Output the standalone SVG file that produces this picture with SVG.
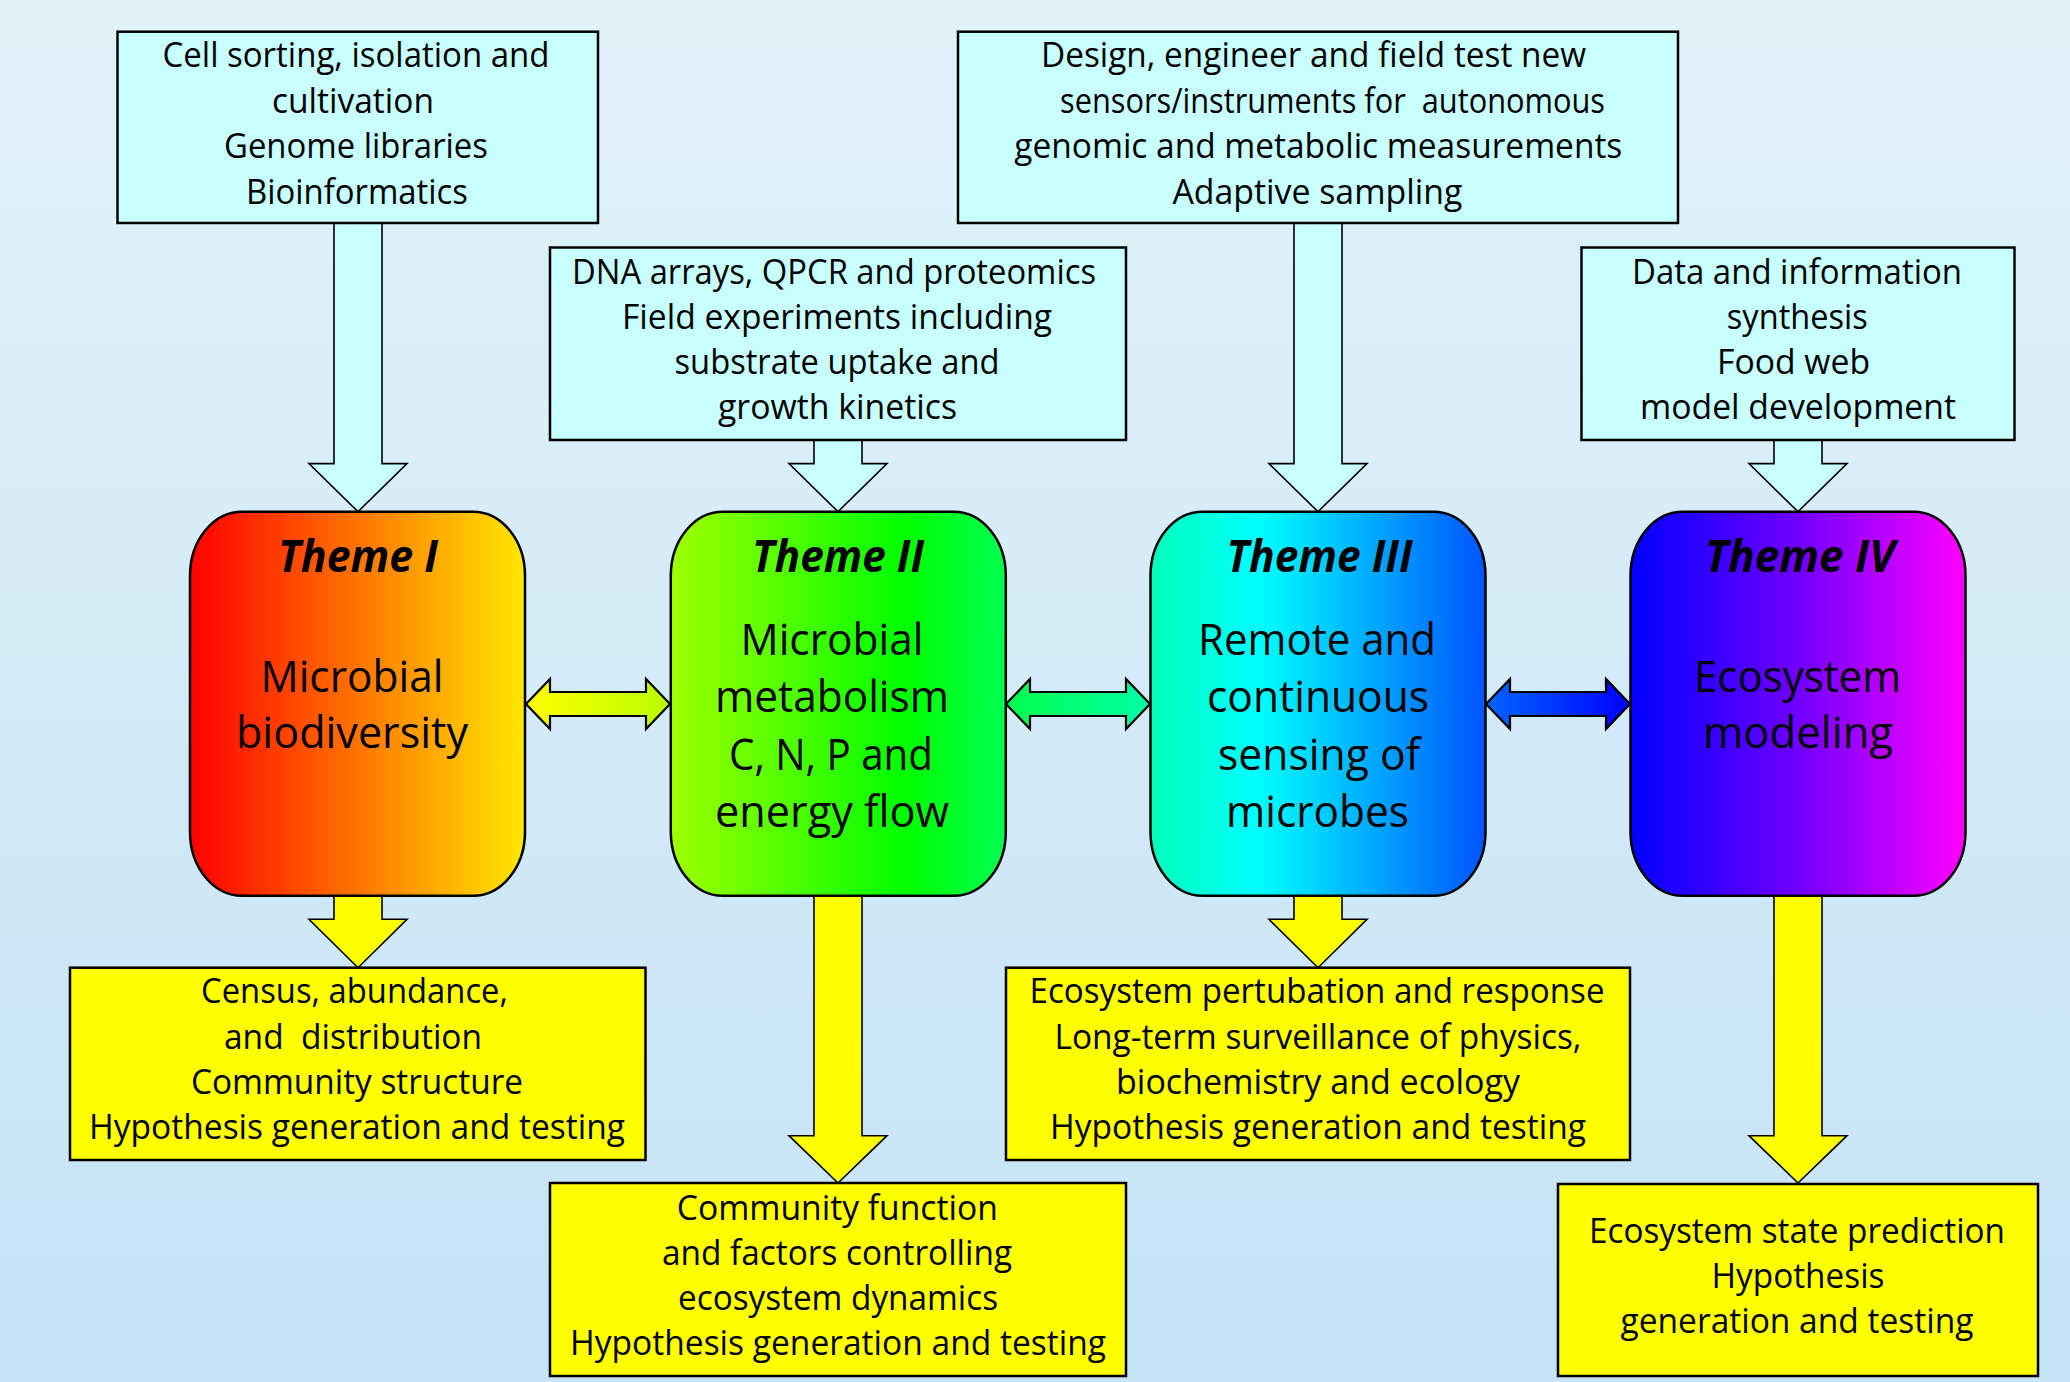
<svg xmlns="http://www.w3.org/2000/svg" width="2070" height="1382" viewBox="0 0 2070 1382">
<defs>
<linearGradient id="bg" x1="0" y1="0" x2="0" y2="1"><stop offset="0" stop-color="#e1f3f9"/><stop offset="1" stop-color="#c5e2f7"/></linearGradient>
<linearGradient id="g1" x1="0" y1="0" x2="1" y2="0"><stop offset="0" stop-color="#ff0000"/><stop offset="0.55" stop-color="#ff8000"/><stop offset="1" stop-color="#ffe800"/></linearGradient>
<linearGradient id="g2" x1="0" y1="0" x2="1" y2="0"><stop offset="0" stop-color="#a0ff00"/><stop offset="0.7" stop-color="#00ff00"/><stop offset="1" stop-color="#00ff50"/></linearGradient>
<linearGradient id="g3" x1="0" y1="0" x2="1" y2="0"><stop offset="0" stop-color="#00ffb8"/><stop offset="0.32" stop-color="#00ffff"/><stop offset="1" stop-color="#0055ff"/></linearGradient>
<linearGradient id="g4" x1="0" y1="0" x2="1" y2="0"><stop offset="0" stop-color="#0000ff"/><stop offset="0.5" stop-color="#7000ff"/><stop offset="1" stop-color="#ff00ff"/></linearGradient>
<linearGradient id="a12" x1="0" y1="0" x2="1" y2="0"><stop offset="0" stop-color="#ffff00"/><stop offset="1" stop-color="#b8ff00"/></linearGradient>
<linearGradient id="a23" x1="0" y1="0" x2="1" y2="0"><stop offset="0" stop-color="#00ff4a"/><stop offset="1" stop-color="#00ffa8"/></linearGradient>
<linearGradient id="a34" x1="0" y1="0" x2="1" y2="0"><stop offset="0" stop-color="#0066ff"/><stop offset="1" stop-color="#0000ff"/></linearGradient>
<style>
.in{fill:#c8ffff;stroke:#000;stroke-width:2.5}
.out{fill:#ffff00;stroke:#000;stroke-width:2.5}
.th{stroke:#000;stroke-width:2.5}
.ain{fill:#c8ffff;stroke:#000;stroke-width:1.6}
.aout{fill:#ffff00;stroke:#000;stroke-width:1.6}
.dbl{stroke:#000;stroke-width:2.2;stroke-linejoin:miter}
text{font-family:"Open Sans","Noto Sans","Liberation Sans",sans-serif;fill:#000;text-anchor:middle}
.t{font-size:34px}
.tt{font-size:45px;font-weight:700;font-style:italic}
.tb{font-size:44px}
.pre{white-space:pre}
</style>
</defs>
<rect width="2070" height="1382" fill="url(#bg)"/>

<g id="connectors">
<path class="ain" d="M334,223 V463.6 H309 L358,511.7 L407,463.6 H382 V223 Z"/>
<path class="ain" d="M814,440 V463.6 H789 L838,511.7 L887,463.6 H862 V440 Z"/>
<path class="ain" d="M1294,223 V463.6 H1269 L1318,511.7 L1367,463.6 H1342 V223 Z"/>
<path class="ain" d="M1774,440 V463.6 H1749 L1798,511.7 L1847,463.6 H1822 V440 Z"/>
<path class="aout" d="M334,895.7 V919.3 H309 L358,967.7 L407,919.3 H382 V895.7 Z"/>
<path class="aout" d="M814,895.7 V1135.7 H789 L838,1183 L887,1135.7 H862 V895.7 Z"/>
<path class="aout" d="M1294,895.7 V919.3 H1269 L1318,967.7 L1367,919.3 H1342 V895.7 Z"/>
<path class="aout" d="M1774,895.7 V1135.7 H1749 L1798,1183 L1847,1135.7 H1822 V895.7 Z"/>
<path class="dbl" fill="url(#a12)" d="M526,704 L550,679 V692 H646 V679 L670,704 L646,729 V716 H550 V729 Z"/>
<path class="dbl" fill="url(#a23)" d="M1006,704 L1030,679 V692 H1126 V679 L1150,704 L1126,729 V716 H1030 V729 Z"/>
<path class="dbl" fill="url(#a34)" d="M1486,704 L1510,679 V692 H1606 V679 L1630,704 L1606,729 V716 H1510 V729 Z"/>
</g>

<g id="box-cell-sorting">
<rect class="in" x="117.5" y="31.7" width="480.5" height="191.3"/>
<text class="t" x="356" y="67" textLength="387" lengthAdjust="spacingAndGlyphs">Cell sorting, isolation and</text>
<text class="t" x="353" y="112.5" textLength="162" lengthAdjust="spacingAndGlyphs">cultivation</text>
<text class="t" x="356" y="158" textLength="264" lengthAdjust="spacingAndGlyphs">Genome libraries</text>
<text class="t" x="357" y="203.5" textLength="222" lengthAdjust="spacingAndGlyphs">Bioinformatics</text>
</g>

<g id="box-dna-arrays">
<rect class="in" x="550" y="247.5" width="576" height="192.5"/>
<text class="t" x="834" y="284" textLength="524" lengthAdjust="spacingAndGlyphs">DNA arrays, QPCR and proteomics</text>
<text class="t" x="837" y="329" textLength="430" lengthAdjust="spacingAndGlyphs">Field experiments including</text>
<text class="t" x="837" y="374" textLength="325" lengthAdjust="spacingAndGlyphs">substrate uptake and</text>
<text class="t" x="837.5" y="419" textLength="239" lengthAdjust="spacingAndGlyphs">growth kinetics</text>
</g>

<g id="box-design">
<rect class="in" x="958" y="31.7" width="720" height="191.3"/>
<text class="t" x="1313.5" y="67" textLength="545" lengthAdjust="spacingAndGlyphs">Design, engineer and field test new</text>
<text class="t pre" x="1332.5" y="112.5" textLength="545" lengthAdjust="spacingAndGlyphs">sensors/instruments for  autonomous</text>
<text class="t" x="1318.3" y="158" textLength="608" lengthAdjust="spacingAndGlyphs">genomic and metabolic measurements</text>
<text class="t" x="1317.4" y="203.5" textLength="290" lengthAdjust="spacingAndGlyphs">Adaptive sampling</text>
</g>

<g id="box-data">
<rect class="in" x="1581.5" y="247.5" width="433" height="192.5"/>
<text class="t" x="1797" y="284" textLength="330" lengthAdjust="spacingAndGlyphs">Data and information</text>
<text class="t" x="1797.3" y="329" textLength="141" lengthAdjust="spacingAndGlyphs">synthesis</text>
<text class="t" x="1793.5" y="374" textLength="153" lengthAdjust="spacingAndGlyphs">Food web</text>
<text class="t" x="1798" y="419" textLength="316" lengthAdjust="spacingAndGlyphs">model development</text>
</g>

<g id="theme-1">
<rect class="th" fill="url(#g1)" x="190" y="511.7" width="335" height="384" rx="52" ry="64"/>
<text class="tt" x="358" y="572" textLength="160" lengthAdjust="spacingAndGlyphs">Theme I</text>
<text class="tb" x="352" y="692" textLength="183" lengthAdjust="spacingAndGlyphs">Microbial</text>
<text class="tb" x="352" y="748" textLength="232" lengthAdjust="spacingAndGlyphs">biodiversity</text>
</g>

<g id="theme-2">
<rect class="th" fill="url(#g2)" x="670.8" y="511.7" width="335" height="384" rx="52" ry="64"/>
<text class="tt" x="838" y="572" textLength="172" lengthAdjust="spacingAndGlyphs">Theme II</text>
<text class="tb" x="832" y="655" textLength="183" lengthAdjust="spacingAndGlyphs">Microbial</text>
<text class="tb" x="832" y="712" textLength="234" lengthAdjust="spacingAndGlyphs">metabolism</text>
<text class="tb" x="831" y="770" textLength="204" lengthAdjust="spacingAndGlyphs">C, N, P and</text>
<text class="tb" x="832" y="827" textLength="234" lengthAdjust="spacingAndGlyphs">energy flow</text>
</g>

<g id="theme-3">
<rect class="th" fill="url(#g3)" x="1150.5" y="511.7" width="335" height="384" rx="52" ry="64"/>
<text class="tt" x="1319.5" y="572" textLength="186" lengthAdjust="spacingAndGlyphs">Theme III</text>
<text class="tb" x="1317" y="655" textLength="238" lengthAdjust="spacingAndGlyphs">Remote and</text>
<text class="tb" x="1318" y="712" textLength="222" lengthAdjust="spacingAndGlyphs">continuous</text>
<text class="tb" x="1319" y="770" textLength="202" lengthAdjust="spacingAndGlyphs">sensing of</text>
<text class="tb" x="1317.5" y="827" textLength="183" lengthAdjust="spacingAndGlyphs">microbes</text>
</g>

<g id="theme-4">
<rect class="th" fill="url(#g4)" x="1630.5" y="511.7" width="335" height="384" rx="52" ry="64"/>
<text class="tt" x="1800" y="572" textLength="190" lengthAdjust="spacingAndGlyphs">Theme IV</text>
<text class="tb" x="1797.5" y="692" textLength="207" lengthAdjust="spacingAndGlyphs">Ecosystem</text>
<text class="tb" x="1798" y="748" textLength="190" lengthAdjust="spacingAndGlyphs">modeling</text>
</g>

<g id="box-census">
<rect class="out" x="70" y="967.7" width="575.5" height="192.3"/>
<text class="t" x="354.5" y="1003.3" textLength="307" lengthAdjust="spacingAndGlyphs">Census, abundance,</text>
<text class="t pre" x="353" y="1048.5" textLength="258" lengthAdjust="spacingAndGlyphs">and  distribution</text>
<text class="t" x="357" y="1094" textLength="332" lengthAdjust="spacingAndGlyphs">Community structure</text>
<text class="t" x="357" y="1139" textLength="536" lengthAdjust="spacingAndGlyphs">Hypothesis generation and testing</text>
</g>

<g id="box-community-function">
<rect class="out" x="550" y="1183" width="576" height="193"/>
<text class="t" x="837.3" y="1220" textLength="321" lengthAdjust="spacingAndGlyphs">Community function</text>
<text class="t" x="837" y="1265" textLength="350" lengthAdjust="spacingAndGlyphs">and factors controlling</text>
<text class="t" x="838" y="1310" textLength="320" lengthAdjust="spacingAndGlyphs">ecosystem dynamics</text>
<text class="t" x="838" y="1355" textLength="536" lengthAdjust="spacingAndGlyphs">Hypothesis generation and testing</text>
</g>

<g id="box-pertubation">
<rect class="out" x="1006" y="967.7" width="624" height="192.3"/>
<text class="t" x="1317" y="1003.3" textLength="575" lengthAdjust="spacingAndGlyphs">Ecosystem pertubation and response</text>
<text class="t" x="1318" y="1048.5" textLength="527" lengthAdjust="spacingAndGlyphs">Long-term surveillance of physics,</text>
<text class="t" x="1318" y="1094" textLength="404" lengthAdjust="spacingAndGlyphs">biochemistry and ecology</text>
<text class="t" x="1318" y="1139" textLength="536" lengthAdjust="spacingAndGlyphs">Hypothesis generation and testing</text>
</g>

<g id="box-state-prediction">
<rect class="out" x="1558" y="1184" width="480" height="192"/>
<text class="t" x="1797" y="1243" textLength="416" lengthAdjust="spacingAndGlyphs">Ecosystem state prediction</text>
<text class="t" x="1798" y="1288" textLength="173" lengthAdjust="spacingAndGlyphs">Hypothesis</text>
<text class="t" x="1797" y="1333" textLength="353" lengthAdjust="spacingAndGlyphs">generation and testing</text>
</g>
</svg>
